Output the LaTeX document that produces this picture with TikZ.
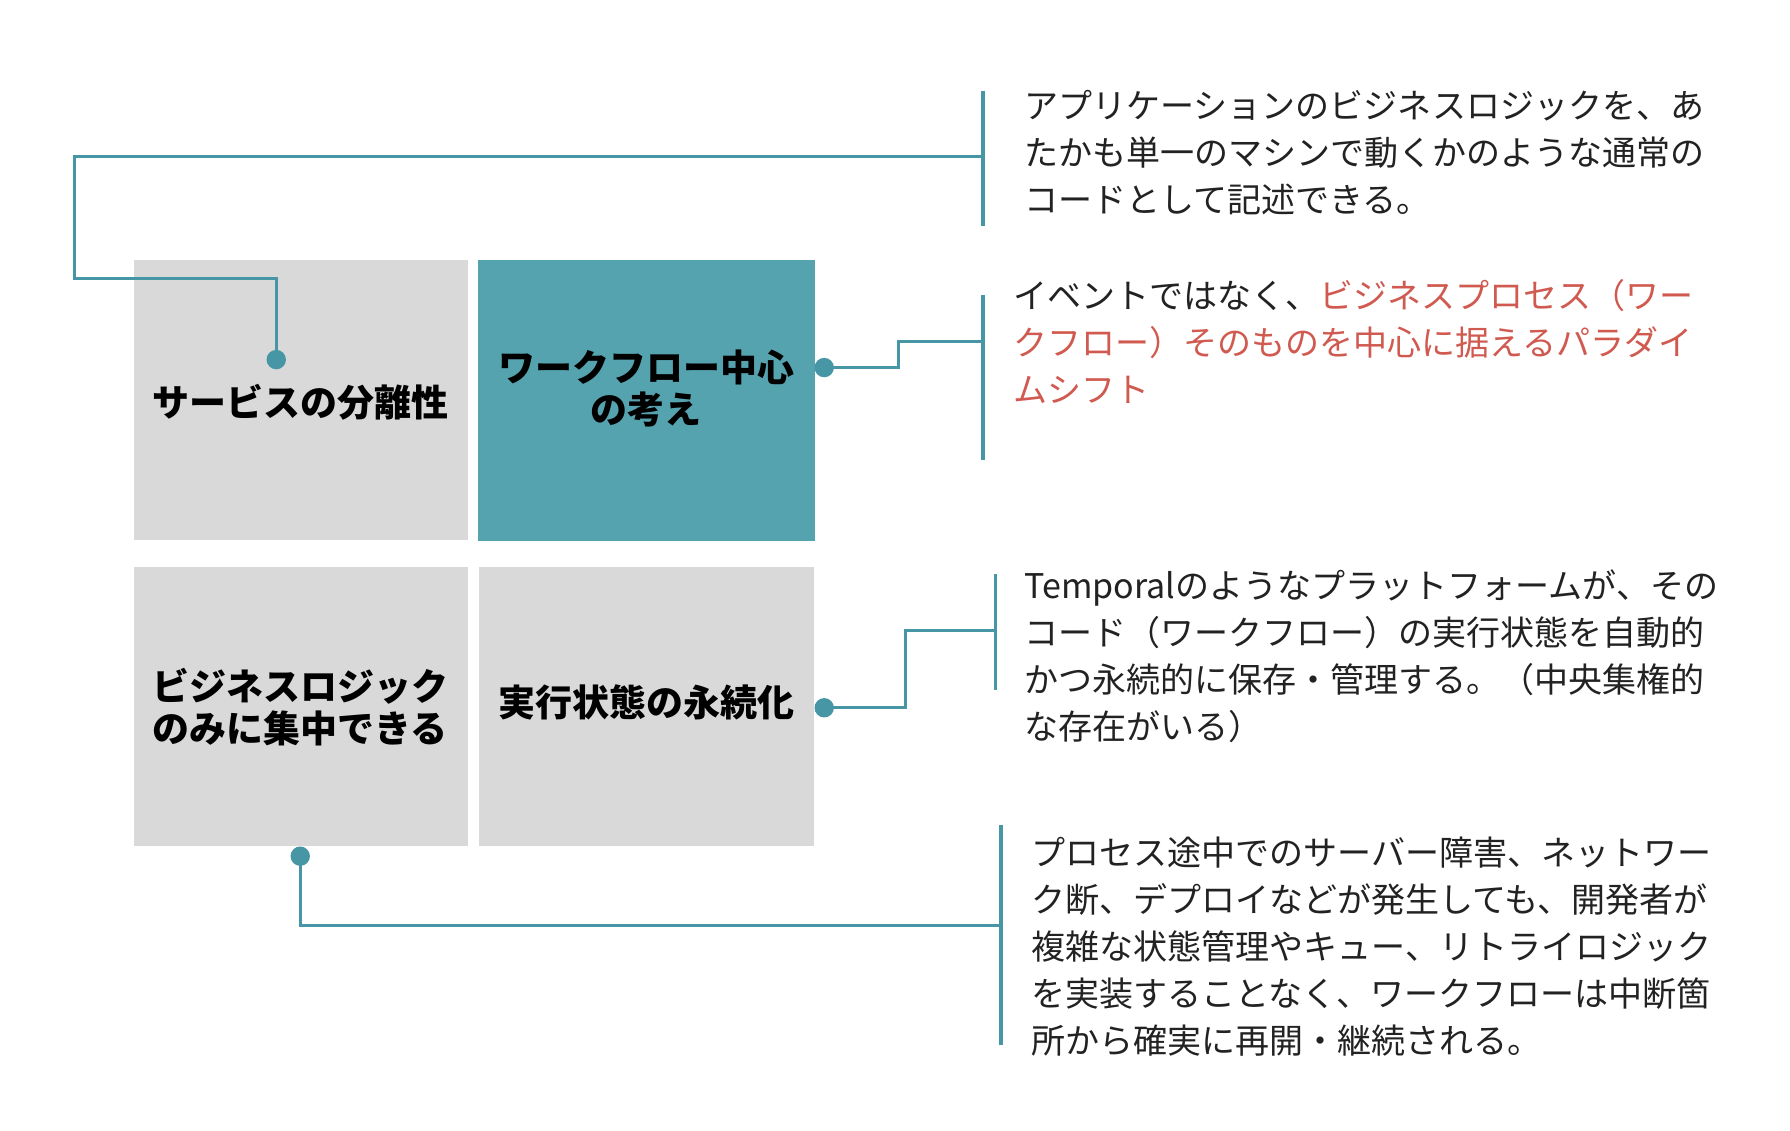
\documentclass[tikz,border=0pt]{standalone}
\usepackage{fontspec}
\newfontfamily\cjk{Noto Sans CJK JP}
\definecolor{tealline}{HTML}{4796A6}
\definecolor{boxteal}{HTML}{56A3B0}
\definecolor{boxgrey}{HTML}{D9D9D9}
\definecolor{redtxt}{HTML}{D05A50}
\definecolor{txt}{HTML}{222222}
\begin{document}
\begin{tikzpicture}[x=0.5pt,y=-0.5pt,
  conn/.style={draw=tealline, line width=1.4pt},
  bar/.style={draw=tealline, line width=1.7pt},
  box/.style={rectangle, inner sep=0pt, draw=none},
  dot/.style={circle, fill=tealline, inner sep=0pt, minimum size=8.5pt},
  lbl/.style={font=\cjk\bfseries\fontsize{16.2}{18.4}\selectfont, align=center, inner sep=0pt, text=black},
  desc/.style={font=\cjk\fontsize{14.9}{20.6}\selectfont, align=left, inner sep=0pt, anchor=west, text=txt}]
\useasboundingbox (0,0) rectangle (1568,990);
% boxes
\node[box, fill=boxgrey, minimum width=146.5pt, minimum height=122.5pt] (b1) at (263.5,350.5) {};
\node[box, fill=boxteal, minimum width=147.5pt, minimum height=123pt] (b2) at (566.5,351) {};
\node[box, fill=boxgrey, minimum width=146.5pt, minimum height=122pt] (b3) at (263.5,619) {};
\node[box, fill=boxgrey, minimum width=146.5pt, minimum height=122pt] (b4) at (566.5,619) {};
% box labels
\node[lbl] (l1) at (263,352) {サービスの分離性};
\node[lbl] (l2) at (566,340) {ワークフロー中心\\の考え};
\node[lbl] (l3) at (263,619) {ビジネスロジック\\のみに集中できる};
\node[lbl] (l4) at (566,615) {実行状態の永続化};
% bars
\coordinate (t1a) at (861,80);  \coordinate (t1b) at (861,198);
\coordinate (t2a) at (861,258); \coordinate (t2b) at (861,403);
\coordinate (t3a) at (872,503); \coordinate (t3b) at (872,604);
\coordinate (t4a) at (877,723); \coordinate (t4b) at (877,915);
\coordinate (j1) at (861,137);
\coordinate (j2) at (861,299);
\coordinate (j3) at (872,552);
\coordinate (j4) at (877,811);
\draw[bar] (t1a) -- (t1b);
\draw[bar] (t2a) -- (t2b);
\draw[bar] (t3a) -- (t3b);
\draw[bar] (t4a) -- (t4b);
% dots
\node[dot] (d1) at (242,315) {};
\node[dot] (d2) at (722,322) {};
\node[dot] (d3) at (263,750) {};
\node[dot] (d4) at (722,620) {};
% connectors
\draw[conn] (d1.center) |- (65,244) |- (j1);
\draw[conn] (d2.center) -| (787,299) -- (j2);
\draw[conn] (d4.center) -| (793,552) -- (j3);
\draw[conn] (d3.center) |- (j4);
% descriptions
\node[desc] (x1) at (897,133.5) {アプリケーションのビジネスロジックを、あ\\たかも単一のマシンで動くかのような通常の\\コードとして記述できる。};
\node[desc] (x2) at (887,299) {イベントではなく、\textcolor{redtxt}{ビジネスプロセス（ワー}\\\textcolor{redtxt}{クフロー）そのものを中心に据えるパラダイ}\\\textcolor{redtxt}{ムシフト}};
\node[desc] (x3) at (897,574.5) {Temporalのようなプラットフォームが、その\\コード（ワークフロー）の実行状態を自動的\\かつ永続的に保存・管理する。（中央集権的\\な存在がいる）};
\node[desc] (x4) at (903,829) {プロセス途中でのサーバー障害、ネットワー\\ク断、デプロイなどが発生しても、開発者が\\複雑な状態管理やキュー、リトライロジック\\を実装することなく、ワークフローは中断箇\\所から確実に再開・継続される。};
\end{tikzpicture}
\end{document}
